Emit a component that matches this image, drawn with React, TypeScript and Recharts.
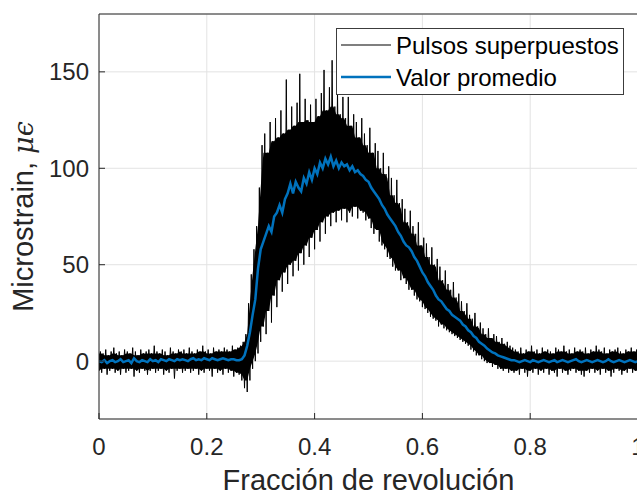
import { ComposedChart, Line, Area, XAxis, YAxis, CartesianGrid, Legend } from 'recharts';

// sampled every 0.005 of a revolution (201 samples)
const STEP = 0.005;

// upper edge of the overlaid pulses
const pulseHigh = [
  5, 4, 6, 3, 5, 7, 4, 5, 3, 6, 5, 4, 7, 5, 3, 6, 4, 5, 6, 4,
  8, 5, 4, 6, 5, 3, 7, 5, 4, 6, 5, 6, 4, 7, 5, 4, 6, 5, 8, 5,
  6, 4, 7, 5, 6, 5, 7, 6, 5, 8, 6, 7,
  8, 10, 14, 30, 45, 58, 70, 90,
  112, 118, 108, 124, 114, 126, 116, 130, 118, 146, 120, 132, 122, 134, 149, 124,
  136, 125, 133, 124, 136, 127, 139, 151, 130, 142, 156, 132, 140, 128, 137, 126,
  137, 122, 128, 124, 116, 126, 118, 112, 121, 108, 113, 109, 100, 108, 97, 101,
  95, 86, 94, 82, 84, 79, 72, 78, 70, 66, 72, 60, 64, 61, 54, 59, 50, 53,
  49, 42, 47, 40, 37, 41, 33, 35, 31, 26, 30, 24, 22, 25, 18, 20, 17, 14,
  17, 12, 14, 13, 10, 12, 9, 10, 8, 7,
  6, 5, 7, 4, 6, 5, 8, 5, 6, 4, 7, 5, 6, 5, 4, 7, 6, 5, 8, 5,
  6, 4, 7, 5, 6, 5, 7, 4, 6, 5, 8, 6, 5, 7, 4, 6, 5, 6, 7, 5,
  4, 6, 5, 7, 5, 6, 5,
];

// lower edge of the overlaid pulses
const pulseLow = [
  -5, -6, -4, -7, -5, -4, -6, -5, -7, -4, -6, -5, -4, -8, -5, -6, -4, -5, -7, -5,
  -4, -6, -5, -4, -7, -5, -6, -4, -9, -5, -4, -6, -5, -4, -6, -5, -4, -7, -5, -6,
  -4, -5, -8, -4, -6, -5, -7, -4, -6, -5, -8, -6,
  -7, -10, -14, -16, -10, -4, 0, 4,
  10, 18, 14, 26, 20, 34, 28, 42, 36, 46, 40, 50, 44, 52, 47, 56,
  50, 60, 54, 64, 58, 68, 62, 72, 66, 75, 70, 77, 72, 78, 73, 79,
  72, 77, 75, 80, 74, 78, 77, 73, 74, 69, 66, 68, 62, 60, 58, 54,
  53, 49, 47, 47, 42, 43, 40, 37, 37, 34, 32, 31, 28, 27, 25, 23, 22, 21,
  18, 19, 17, 16, 15, 14, 13, 12, 11, 10, 9, 8, 6, 5, 3, 3, 1, 0,
  -1, -1, -3, -2, -4, -4, -5, -4, -6, -5,
  -6, -5, -7, -4, -6, -8, -5, -6, -4, -7, -5, -6, -4, -7, -5, -6, -8, -4, -6, -5,
  -7, -5, -4, -6, -5, -7, -8, -5, -6, -4, -6, -5, -7, -4, -6, -5, -8, -6, -4, -5,
  -7, -5, -6, -4, -6, -5, -7,
];

// average of the pulses
const meanValues = [
  0, -0.5, 0.5, -1, 0, 0.5, -0.5, 0, 1, -0.5, 0, 0.5, -1, 1.5, 0, -0.5, 0.5, 0, -0.5, 1,
  0, 0.5, -0.5, 1, 0.5, 0, 1, 0.5, 0, 1, 0.5, 1, 0.5, 0, 1, 1.5, 0.5, 1, 0.5, 1.5,
  1, 0.5, 1.5, 1, 0.5, 1, 1.5, 1, 0.5, 1, 1, 0.5,
  0.5, 1, 3, 8, 15, 24, 32, 48, 58, 62, 66, 70, 67, 75, 77, 81, 77, 84,
  87, 92, 87, 93, 90, 88, 95, 92, 98, 94, 100, 97, 103, 100, 105, 102,
  106, 101, 104, 100, 103, 101, 102, 99, 101, 98, 99, 97, 96, 94, 93, 90,
  88, 86, 84, 81, 79, 76, 74, 72, 70, 67, 65, 62, 60, 59, 57, 54, 52, 49,
  46, 44, 41, 39, 37, 34, 32, 31, 29, 27, 26, 24, 23, 22, 21, 19, 18, 16,
  15, 13, 12, 10, 9, 8, 6.5, 5.5, 4.5, 4, 3, 2.5, 2, 1.5, 1, 0.5,
  0.5, 0, -0.5, 0, 0.5, 0, -0.5, 0.5, 0, -0.5, 0, 0.5, 0, -0.5, 0, 0.5, -0.5, 0, 0.5, 0,
  -0.5, 0, 0.5, 1, 0, -0.5, 0, 0.5, 0, -0.5, 0, 0.5, 0, -0.5, 0, 1, 0, -0.5, 0, 0.5,
  0, -0.5, 0, 0.5, 0, -0.5, 0,
];

const xTicks = [0, 0.2, 0.4, 0.6, 0.8, 1];
const yTicks = [0, 50, 100, 150];

// solid core of the pulse band (inner of the neighbouring edges), spikes come from the zigzag
const bandData = pulseLow.map((_, i) => {
  const near = [i - 1, i, i + 1].filter((j) => j >= 0 && j < pulseLow.length);
  return {
    x: i * STEP,
    lo: Math.max(...near.map((j) => pulseLow[j])),
    hi: Math.min(...near.map((j) => pulseHigh[j])),
  };
});
// pulses drawn as one zigzag going low -> high -> low at every sample
const pulseData: { x: number; y: number }[] = [];
pulseLow.forEach((lo, i) => {
  pulseData.push({ x: i * STEP, y: lo });
  if (i < pulseHigh.length - 1) pulseData.push({ x: i * STEP + STEP / 2, y: pulseHigh[i] });
});
const meanData = meanValues.map((v, i) => ({ x: i * STEP, y: v }));

const AX = '#262626';
const FONT = '"Liberation Sans", Arial, sans-serif';
const PL = 99; // plot left
const PR = 638; // plot right
const PT = 14; // plot top
const PB = 419; // plot bottom

const LeftTick = ({ y, payload }: any) => (
  <g>
    <line x1={PL} x2={PL + 6} y1={y} y2={y} stroke={AX} />
    <text x={89} y={y} dy={8.5} textAnchor="end" fontSize={24} fill={AX} fontFamily={FONT}>
      {payload.value}
    </text>
  </g>
);

const RightTick = ({ y }: any) => <line x1={PR - 6} x2={PR} y1={y} y2={y} stroke={AX} />;

const BottomTick = ({ x, payload }: any) => (
  <g>
    <line x1={x} x2={x} y1={PB} y2={PB - 6} stroke={AX} />
    <text x={x} y={PB + 36} textAnchor="middle" fontSize={24} fill={AX} fontFamily={FONT}>
      {payload.value}
    </text>
  </g>
);

const TopTick = ({ x }: any) => <line x1={x} x2={x} y1={PT} y2={PT + 6} stroke={AX} />;

const renderLegend = ({ payload }: any) => {
  const items = (payload || []).filter((e: any) => e.type !== 'none');
  return (
    <svg width={288} height={67} style={{ display: 'block' }}>
      <rect x={0.5} y={0.5} width={287} height={66} fill="#fff" stroke="#3c3c3c" />
      {items.map((entry: any, i: number) => (
        <g key={entry.value}>
          <line
            x1={5}
            x2={55}
            y1={17 + i * 32}
            y2={17 + i * 32}
            stroke={entry.color}
            strokeWidth={i === 0 ? 1.2 : 2.5}
          />
          <text x={60} y={26 + i * 32} fontSize={24} fill="#000" fontFamily={FONT}>
            {entry.value}
          </text>
        </g>
      ))}
    </svg>
  );
};

export default function App() {
  return (
    <div
      style={{
        position: 'absolute',
        left: 0,
        top: 0,
        width: 637,
        height: 493,
        overflow: 'hidden',
        background: '#fff',
        fontFamily: FONT,
      }}
    >
      <ComposedChart width={645} height={493} margin={{ top: 13, right: 6, bottom: 14, left: 0 }}>
        <CartesianGrid stroke="#e3e3e3" />
        <XAxis
          dataKey="x"
          type="number"
          domain={[0, 1]}
          ticks={xTicks}
          interval={0}
          allowDataOverflow
          height={60}
          stroke={AX}
          tickLine={false}
          tick={BottomTick}
          label={{
            value: 'Fracción de revolución',
            position: 'insideBottom',
            offset: -11,
            style: { fontSize: 29, fill: AX, fontFamily: FONT, textAnchor: 'middle' },
          }}
        />
        <XAxis
          xAxisId="top"
          orientation="top"
          dataKey="x"
          type="number"
          domain={[0, 1]}
          ticks={xTicks}
          interval={0}
          height={1}
          stroke={AX}
          tickLine={false}
          tick={TopTick}
        />
        <YAxis
          type="number"
          domain={[-30, 180]}
          ticks={yTicks}
          interval={0}
          allowDataOverflow
          width={99}
          stroke={AX}
          tickLine={false}
          tick={LeftTick}
          label={({ viewBox }: any) => (
            <text
              x={33}
              y={viewBox.y + viewBox.height / 2}
              transform={`rotate(-90, 33, ${viewBox.y + viewBox.height / 2})`}
              textAnchor="middle"
              fontSize={29}
              fill={AX}
              fontFamily={FONT}
            >
              Microstrain,{' '}
              <tspan fontFamily='"DejaVu Serif", serif' fontStyle="italic" fontSize={27}>
                μϵ
              </tspan>
            </text>
          )}
        />
        <YAxis
          yAxisId="right"
          orientation="right"
          type="number"
          domain={[-30, 180]}
          ticks={yTicks}
          interval={0}
          width={1}
          stroke={AX}
          tickLine={false}
          tick={RightTick}
        />
        <Area
          data={bandData}
          dataKey={(d: any) => [d.lo, d.hi]}
          type="linear"
          fill="#000"
          fillOpacity={1}
          stroke="none"
          legendType="none"
          activeDot={false}
          isAnimationActive={false}
        />
        <Line
          data={pulseData}
          dataKey="y"
          name="Pulsos superpuestos"
          type="linear"
          stroke="#000"
          strokeWidth={1}
          dot={false}
          activeDot={false}
          isAnimationActive={false}
        />
        <Line
          data={meanData}
          dataKey="y"
          name="Valor promedio"
          type="linear"
          stroke="#0072BD"
          strokeWidth={2.5}
          dot={false}
          activeDot={false}
          isAnimationActive={false}
        />
        <Legend
          layout="vertical"
          align="center"
          verticalAlign="middle"
          content={renderLegend}
          wrapperStyle={{ left: 336, top: 28, width: 288, height: 67 }}
        />
      </ComposedChart>
    </div>
  );
}
